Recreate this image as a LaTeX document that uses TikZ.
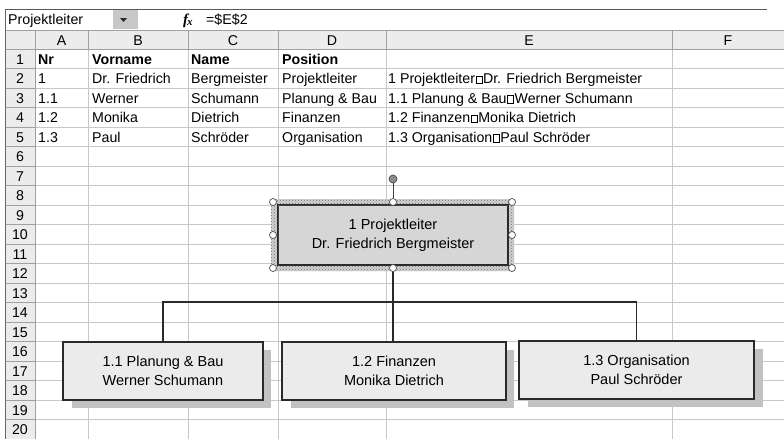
\documentclass[tikz,border=0pt]{standalone}
\usepackage{fontspec}
\setmainfont{Liberation Sans}
\newfontfamily\serifx{Liberation Serif}
\usetikzlibrary{patterns}
\definecolor{gridc}{HTML}{C8C8C8}
\definecolor{hdrc}{HTML}{ECECEC}
\definecolor{hdrline}{HTML}{A0A0A0}
\definecolor{shadowc}{HTML}{C2C2C2}
\definecolor{boxc}{HTML}{EBEBEB}
\definecolor{topc}{HTML}{D6D6D6}
\definecolor{linec}{HTML}{2A2A2A}
\newcommand\lbx{\kern0.6pt\raisebox{0.2pt}{\setlength\fboxsep{0pt}\setlength\fboxrule{0.6pt}\fbox{\rule{0pt}{7pt}\hspace{5.6pt}}}\kern0.6pt}
\tikzset{
  cell/.style={anchor=base west, inner sep=0pt},
  rowno/.style={anchor=base, inner sep=0pt},
  colhd/.style={anchor=base, inner sep=0pt},
  orgbox/.style={draw=linec, line width=1.1pt, fill=boxc, align=center, inner sep=0pt, font=\fontsize{14.5}{19.5}\selectfont},
  topbox/.style={orgbox, fill=topc},
  handle/.style={circle, draw=black!70, fill=white, line width=0.7pt, minimum size=7pt, inner sep=0pt},
  rothandle/.style={circle, draw=black!70, fill=black!45, line width=0.7pt, minimum size=8pt, inner sep=0pt},
  conn/.style={draw=linec, line width=1.1pt},
}
\begin{document}
\begin{tikzpicture}[x=1pt,y=-1pt,font=\fontsize{14.2}{16}\selectfont]
\useasboundingbox (0,0) rectangle (784,439);
\fill[white] (0,0) rectangle (784,439);
% formula bar
\draw[black!65, line width=1pt] (5,9) -- (767,9);
\fill[black!22] (113,10) rectangle (138,29);
\fill[linec] (120,18) -- (127,18) -- (123.5,22) -- cycle;
\node[cell] (namebox) at (8,24) {Projektleiter};
\node[anchor=base west, inner sep=0pt] (fx) at (183,24) {\serifx\fontsize{15}{16}\selectfont\bfseries\itshape f\kern-1pt\raisebox{-1.2pt}{\fontsize{11}{11}\selectfont x}};
\node[cell] (formula) at (206,24) {=\$E\$2};
% header backgrounds
\fill[hdrc] (5,30) rectangle (784,49);
\fill[hdrc] (5,49) rectangle (35,439);
% grid lines
\foreach \k in {1,...,19}{
  \pgfmathsetmacro\yy{49+\k*19.5}
  \draw[gridc, line width=0.8pt] (35,\yy) -- (784,\yy);
  \draw[hdrline, line width=0.8pt] (5,\yy) -- (35,\yy);
}
\foreach \xx in {88,188,278,386,672}{
  \draw[gridc, line width=0.8pt] (\xx,49) -- (\xx,439);
  \draw[hdrline, line width=0.8pt] (\xx,30) -- (\xx,49);
}
\draw[hdrline, line width=0.8pt] (5,30) -- (784,30);
\draw[hdrline, line width=0.9pt] (5,49) -- (784,49);
\draw[hdrline, line width=0.9pt] (35,30) -- (35,439);
\draw[black!60, line width=1pt] (5,9) -- (5,439);
% column letters
\node[colhd] (hA) at (61.5,45) {A};
\node[colhd] (hB) at (138,45) {B};
\node[colhd] (hC) at (233,45) {C};
\node[colhd] (hD) at (332,45) {D};
\node[colhd] (hE) at (529,45) {E};
\node[colhd] (hF) at (728,45) {F};
% row numbers
\foreach \r in {1,...,20}{
  \pgfmathsetmacro\yb{49+(\r-1)*19.5+15}
  \node[rowno] (rn\r) at (20,\yb) {\r};
}
% row 1
\node[cell,font=\fontsize{14.2}{16}\selectfont\bfseries] (a1) at (38,64) {Nr};
\node[cell,font=\fontsize{14.2}{16}\selectfont\bfseries] (b1) at (92,64) {Vorname};
\node[cell,font=\fontsize{14.2}{16}\selectfont\bfseries] (c1c) at (191,64) {Name};
\node[cell,font=\fontsize{14.2}{16}\selectfont\bfseries] (d1) at (282,64) {Position};
% row 2
\node[cell] (a2) at (38,83.5) {1};
\node[cell] (b2) at (92,83.5) {Dr. Friedrich};
\node[cell] (c2c) at (191,83.5) {Bergmeister};
\node[cell] (d2) at (282,83.5) {Projektleiter};
\node[cell] (e2) at (388,83.5) {1 Projektleiter\lbx{}Dr. Friedrich Bergmeister};
% row 3
\node[cell] (a3) at (38,103) {1.1};
\node[cell] (b3) at (92,103) {Werner};
\node[cell] (c3c) at (191,103) {Schumann};
\node[cell] (d3) at (282,103) {Planung \& Bau};
\node[cell] (e3) at (388,103) {1.1 Planung \& Bau\lbx{}Werner Schumann};
% row 4
\node[cell] (a4) at (38,122.5) {1.2};
\node[cell] (b4) at (92,122.5) {Monika};
\node[cell] (c4c) at (191,122.5) {Dietrich};
\node[cell] (d4) at (282,122.5) {Finanzen};
\node[cell] (e4) at (388,122.5) {1.2 Finanzen\lbx{}Monika Dietrich};
% row 5
\node[cell] (a5) at (38,142) {1.3};
\node[cell] (b5) at (92,142) {Paul};
\node[cell] (c5c) at (191,142) {Schröder};
\node[cell] (d5) at (282,142) {Organisation};
\node[cell] (e5) at (388,142) {1.3 Organisation\lbx{}Paul Schröder};
% org chart shadows
\fill[shadowc] (72,350) rectangle (271,408);
\fill[shadowc] (291,350) rectangle (514,408);
\fill[shadowc] (528,349) rectangle (763,407);
% org chart boxes
\node[topbox, minimum width=230pt, minimum height=60pt] (top) at (393,235) {1 Projektleiter\\Dr. Friedrich Bergmeister};
\node[orgbox, minimum width=200pt, minimum height=58pt] (k1) at (163,371) {1.1 Planung \& Bau\\Werner Schumann};
\node[orgbox, minimum width=224pt, minimum height=58pt] (k2) at (394,371) {1.2 Finanzen\\Monika Dietrich};
\node[orgbox, minimum width=235pt, minimum height=58pt] (k3) at (636.5,370) {1.3 Organisation\\Paul Schröder};
% connectors
\coordinate (bus) at (393,302);
\draw[conn] (top.south) -- (k2.north -| top.south);
\draw[conn] (k1.north) |- (bus) -| (k3.north);
% selection frame
\fill[black!18, even odd rule] (271,199) rectangle (514,271) (278,205) rectangle (508,265);
\fill[pattern=crosshatch dots, pattern color=black!55, even odd rule] (271,199) rectangle (514,271) (278,205) rectangle (508,265);
\draw[linec, line width=1.2pt] (top.north west) rectangle (top.south east);
% handles
\node[rothandle] (rot) at (393,179) {};
\node[handle] (hn) at (393,202) {};
\draw[black!75, line width=1pt] (rot) -- (hn);
\node[handle] (hnw) at (273,202) {};
\node[handle] (hne) at (512,202) {};
\node[handle] (hw) at (273,235) {};
\node[handle] (he) at (512,235) {};
\node[handle] (hsw) at (273,268) {};
\node[handle] (hs) at (393,268) {};
\node[handle] (hse) at (512,268) {};
\end{tikzpicture}
\end{document}
